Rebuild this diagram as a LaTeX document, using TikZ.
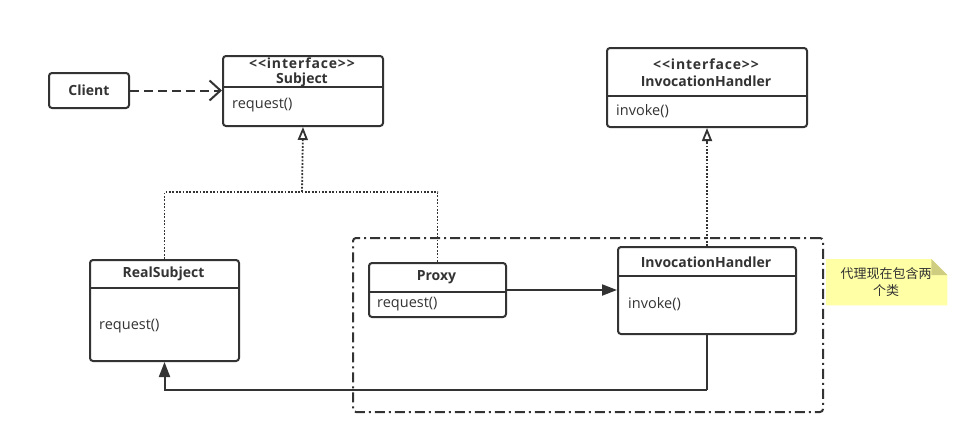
\documentclass[tikz,border=0pt]{standalone}
\usepackage{fontspec}
\setmainfont{Open Sans}[Ligatures=NoCommon]
\newfontfamily\cjk{Noto Sans CJK SC}
\usetikzlibrary{arrows.meta,calc}
\definecolor{ink}{HTML}{333333}
\definecolor{notefill}{HTML}{FFFFA6}
\definecolor{notefold}{HTML}{CFCE80}
\tikzset{
  cls/.style={draw=ink, line width=2pt, rounded corners=3pt, anchor=north west, inner sep=0pt},
  divider/.style={draw=ink, line width=2pt},
  ttl/.style={font=\fontsize{14}{16}\selectfont\bfseries, text=ink, inner sep=0pt},
  stereo/.style={font=\fontsize{14}{16}\selectfont\bfseries\addfontfeatures{LetterSpace=6}, text=ink, inner sep=0pt},
  meth/.style={font=\fontsize{14.5}{16}\selectfont, text=ink, inner sep=0pt, anchor=west},
  depend/.style={draw=ink, line width=2pt, dash pattern=on 9pt off 5pt, -{Straight Barb[length=11pt,width=20pt,line width=2pt]}},
  realize/.style={draw=ink, line width=1.8pt, dash pattern=on 1.8pt off 1.6pt},
  realtip/.style={realize, -{Triangle[open,length=13pt,width=10pt,line width=1.8pt,sep=0pt]}},
  assoc/.style={draw=ink, line width=2pt, -{Triangle[length=15pt,width=11pt]}},
  grpbox/.style={draw=ink, line width=2pt, rounded corners=3pt, dash pattern=on 10pt off 4pt on 2pt off 4pt, anchor=north west, inner sep=0pt},
}
\begin{document}
\begin{tikzpicture}[x=1pt,y=-1pt]
\useasboundingbox (0,0) rectangle (979,442);
\fill[white] (0,0) rectangle (979,442);

% group box
\node[grpbox, minimum width=470pt, minimum height=174pt] (grp) at (352,237) {};

% Client
\node[cls, minimum width=80pt, minimum height=35pt] (client) at (48,72) {};
\node[ttl] (clientT) at (client.center) {Client};

% Subject interface
\node[cls, minimum width=160pt, minimum height=70pt] (subj) at (222,55) {};
\draw[divider] (222,87) -- (382,87);
\node[stereo] (subjS) at (302,63) {<{}<interface>{}>};
\node[ttl] (subjT) at (302,80) {Subject};
\node[meth] (subjM) at (232,105) {request()};

% InvocationHandler interface
\node[cls, minimum width=200pt, minimum height=79pt] (ihi) at (606,47) {};
\draw[divider] (606,96) -- (806,96);
\node[stereo] (ihiS) at (706,64) {<{}<interface>{}>};
\node[ttl] (ihiT) at (706,81) {InvocationHandler};
\node[meth] (ihiM) at (616,111) {invoke()};

% RealSubject
\node[cls, minimum width=149pt, minimum height=101pt] (rs) at (89,259) {};
\draw[divider] (89,288) -- (238,288);
\node[ttl] (rsT) at (163.5,274) {RealSubject};
\node[meth] (rsM) at (99,326) {request()};

% Proxy
\node[cls, minimum width=137pt, minimum height=54pt] (px) at (368,262) {};
\draw[divider] (368,292) -- (505,292);
\node[ttl] (pxT) at (436.5,277) {Proxy};
\node[meth] (pxM) at (377,304) {request()};

% InvocationHandler class
\node[cls, minimum width=178pt, minimum height=87pt] (ihc) at (617,246) {};
\draw[divider] (617,276) -- (795,276);
\node[ttl] (ihcT) at (706,262) {InvocationHandler};
\node[meth] (ihcM) at (628,304) {invoke()};

% Note
\node[inner sep=0pt, minimum width=121pt, minimum height=46pt, anchor=north west] (note) at (826,259) {};
\fill[notefill] (note.north west) -- ($(note.north east)+(-16,0)$) -- ($(note.north east)+(0,16)$) -- (note.south east) -- (note.south west) -- cycle;
\fill[notefold] ($(note.north east)+(-16,0)$) -- ($(note.north east)+(0,16)$) -- ($(note.north east)+(-16,16)$) -- cycle;
\node[font=\cjk\fontsize{13}{17.5}\selectfont, text=ink, align=center, inner sep=0pt] (noteT) at (886,282) {代理现在包含两\\个类};

% connectors
\coordinate (j) at (302,192);
\draw[depend] (client.east) -- (client.east -| subj.west);
\draw[realize] (rs.north) |- (j) -| (px.north);
\draw[realtip] (j) -- (subj.south);
\draw[realtip] (ihc.north) -- (ihi.south);
\draw[assoc] (px.east) -- (px.east -| ihc.west);
\coordinate (turn) at (707,390);
\draw[assoc, -] (ihc.south -| turn) -- (turn);
\draw[assoc] (turn) -| (rs.south);
\end{tikzpicture}
\end{document}
